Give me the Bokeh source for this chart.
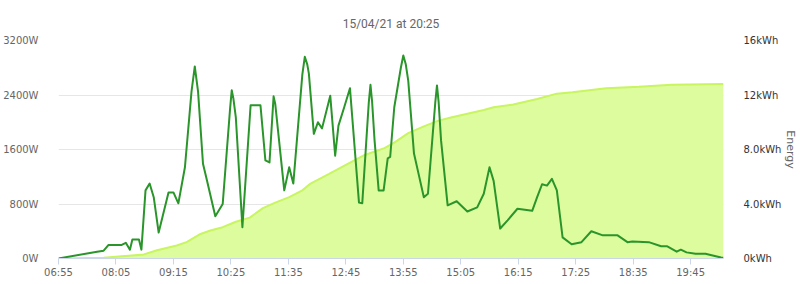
import pandas as pd
from bokeh.plotting import figure
from bokeh.models import Range1d, LinearAxis, FixedTicker, DatetimeTickFormatter, ColumnDataSource
from bokeh.embed import file_html
from bokeh.resources import INLINE

DAY = "2021-04-15 "

power_times = ["06:55", "07:42", "07:50", "07:56", "08:12", "08:17", "08:22", "08:25", "08:33", "08:36",
               "08:41", "08:46", "08:51", "08:57", "09:09", "09:15", "09:21", "09:29", "09:37", "09:41",
               "09:45", "09:51", "09:55", "10:06", "10:15", "10:24", "10:26", "10:28", "10:31", "10:39",
               "10:49", "11:01", "11:07", "11:12", "11:17", "11:19", "11:30", "11:36", "11:41", "11:52",
               "11:55", "11:58", "12:00", "12:06", "12:11", "12:16", "12:26", "12:32", "12:36", "12:43",
               "12:50", "13:01", "13:05", "13:13", "13:15", "13:17", "13:20", "13:25", "13:31", "13:36",
               "13:39", "13:44", "13:52", "13:55", "13:58", "14:01", "14:08", "14:14", "14:20", "14:25",
               "14:34", "14:36", "14:38", "14:41", "14:49", "15:00", "15:13", "15:25", "15:33", "15:40",
               "15:45", "15:53", "16:02", "16:14", "16:32", "16:38", "16:44", "16:50", "16:56", "17:02",
               "17:09", "17:20", "17:32", "17:44", "17:58", "18:16", "18:28", "18:34", "18:54", "19:09",
               "19:16", "19:28", "19:33", "19:40", "19:51", "20:03", "20:22", "20:25"]
power_w = [0, 100, 115, 200, 200, 230, 130, 280, 280, 130,
           1000, 1100, 900, 380, 970, 970, 810, 1340, 2450, 2820,
           2450, 1390, 1190, 620, 800, 2200, 2470, 2350, 2070, 460,
           2250, 2250, 1440, 1410, 2380, 2270, 1000, 1340, 1100, 2700,
           2960, 2850, 2710, 1830, 2000, 1910, 2390, 1510, 1950, 2220,
           2500, 820, 810, 2300, 2550, 2300, 1730, 1000, 1000, 1470,
           1490, 2220, 2800, 2980, 2850, 2610, 1540, 1220, 900, 950,
           2300, 2540, 2300, 1730, 780, 840, 690, 750, 950, 1340,
           1140, 440, 560, 730, 700, 900, 1090, 1070, 1170, 1000,
           310, 210, 240, 400, 340, 340, 240, 250, 240, 180,
           180, 100, 130, 90, 70, 70, 15, 10]

energy_times = ["06:55", "07:50", "08:39", "08:55", "09:19", "09:31", "09:48", "10:00", "10:15", "10:31",
                "10:48", "11:04", "11:19", "11:36", "11:52", "12:02", "12:24", "12:49", "13:08", "13:32",
                "13:44", "14:01", "14:20", "14:37", "14:53", "15:33", "15:45", "16:09", "16:38", "17:02",
                "17:21", "18:02", "18:42", "19:22", "20:25"]
energy_kwh = [0, 0.05, 0.3, 0.6, 0.95, 1.2, 1.8, 2.05, 2.3, 2.7,
              3.0, 3.7, 4.1, 4.5, 5.0, 5.5, 6.2, 7.0, 7.6, 8.1,
              8.5, 9.2, 9.7, 10.1, 10.35, 10.9, 11.1, 11.3, 11.7, 12.1,
              12.2, 12.5, 12.6, 12.75, 12.8]

x_tick_labels = ["06:55", "08:05", "09:15", "10:25", "11:35", "12:45", "13:55",
                 "15:05", "16:15", "17:25", "18:35", "19:45"]
left_ticks = [0, 800, 1600, 2400, 3200]
left_labels = ["0W", "800W", "1600W", "2400W", "3200W"]
right_ticks = [0, 4, 8, 12, 16]
right_labels = ["0kWh", "4.0kWh", "8.0kWh", "12kWh", "16kWh"]
title_text = "15/04/21 at 20:25"


def to_dt(lst):
    return pd.to_datetime([DAY + t for t in lst])


psrc = ColumnDataSource(dict(x=to_dt(power_times), y=power_w))
esrc = ColumnDataSource(dict(x=to_dt(energy_times), y=energy_kwh, y0=[0] * len(energy_kwh)))

x_start = to_dt(["06:55"])[0]
x_end = to_dt(["20:25"])[0]

p = figure(width=800, height=284, output_backend="svg", toolbar_location=None,
           x_axis_type="datetime", x_range=Range1d(x_start, x_end), y_range=Range1d(0, 3200),
           min_border_left=54, min_border_right=75, min_border_top=40, min_border_bottom=26,
           title=title_text)
p.extra_y_ranges = {"energy": Range1d(0, 16)}
p.outline_line_color = None
p.background_fill_color = "white"
p.border_fill_color = "white"

p.title.align = "center"
p.title.text_font = "Roboto"
p.title.text_font_size = "12px"
p.title.text_font_style = "normal"
p.title.text_color = "#666666"
p.title.offset = 0
p.title.standoff = 20

# energy area
p.varea(x="x", y1="y0", y2="y", source=esrc, fill_color="#dcfc9d", fill_alpha=1.0, y_range_name="energy")
p.line(x="x", y="y", source=esrc, line_color="#c8f560", line_width=2, y_range_name="energy")

# power line
p.line(x="x", y="y", source=psrc, line_color="#2a952a", line_width=2, line_join="round")

# x axis
xa = p.xaxis[0]
xa.ticker = FixedTicker(ticks=[t.value / 1e6 for t in to_dt(x_tick_labels)])
xa.formatter = DatetimeTickFormatter(minutes="%H:%M", hours="%H:%M", hourmin="%H:%M", days="%H:%M")
xa.axis_line_color = "#ccd6eb"
xa.major_tick_line_color = "#ccd6eb"
xa.major_tick_in = 0
xa.major_tick_out = 6
xa.minor_tick_line_color = None
xa.major_label_text_font = "DejaVu Sans"
xa.major_label_text_font_size = "10px"
xa.major_label_text_color = "#666666"
xa.major_label_standoff = 2

# left axis
ya = p.yaxis[0]
ya.ticker = FixedTicker(ticks=left_ticks)
ya.major_label_overrides = {t: l for t, l in zip(left_ticks, left_labels)}
ya.axis_line_color = None
ya.major_tick_line_color = None
ya.minor_tick_line_color = None
ya.major_label_text_font = "DejaVu Sans"
ya.major_label_text_font_size = "10px"
ya.major_label_text_color = "#666666"
ya.major_label_standoff = 14

# right axis
ra = LinearAxis(y_range_name="energy", axis_label="Energy")
ra.ticker = FixedTicker(ticks=right_ticks)
ra.major_label_overrides = {t: l for t, l in zip(right_ticks, right_labels)}
ra.axis_line_color = None
ra.major_tick_line_color = None
ra.minor_tick_line_color = None
ra.major_label_text_font = "DejaVu Sans"
ra.major_label_text_font_size = "10px"
ra.major_label_text_color = "#333333"
ra.major_label_standoff = 14
ra.axis_label_text_font = "DejaVu Sans"
ra.axis_label_text_font_size = "11px"
ra.axis_label_text_font_style = "normal"
ra.axis_label_text_color = "#666666"
ra.axis_label_standoff = 0
p.add_layout(ra, "right")

p.xgrid.grid_line_color = None
p.ygrid.grid_line_color = "#e6e6e6"
p.ygrid.grid_line_width = 1

open("out.html", "w").write(file_html(p, INLINE))
